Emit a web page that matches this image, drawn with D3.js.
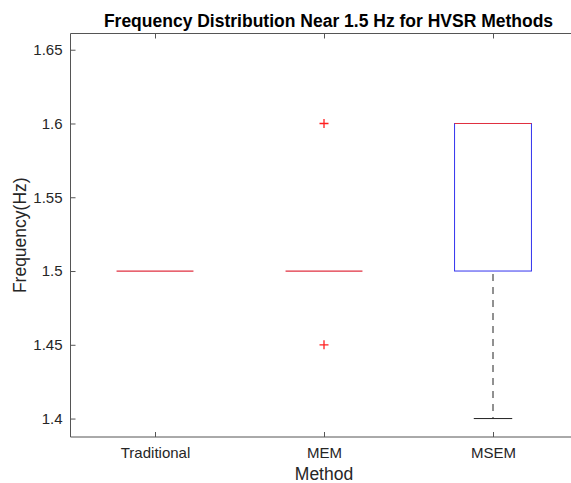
<!DOCTYPE html>
<html><head><meta charset="utf-8">
<script src="https://cdn.jsdelivr.net/npm/d3@7"></script>
<style>body{margin:0;background:#fff;overflow:hidden;} svg{display:block;overflow:hidden;} text{font-family:"Liberation Sans",Arial,sans-serif;}</style>
</head><body>
<svg id="c" width="571" height="483"></svg>
<script>
const methods = ["Traditional", "MEM", "MSEM"];
const q1 = [1.5, 1.5, 1.5];
const medians = [1.5, 1.5, 1.6];
const q3 = [1.5, 1.5, 1.6];
const whiskerLow = [1.5, 1.5, 1.4];
const whiskerHigh = [1.5, 1.5, 1.6];
const outliers = [[], [1.6, 1.45], []];
const yTicks = [1.4, 1.45, 1.5, 1.55, 1.6, 1.65];

const svg = d3.select("#c");
const L = 70.5, R = 577.5, T = 33.5, B = 437;
const x = d3.scaleLinear().domain([0.5, 3.5]).range([L, R]);
const y = d3.scaleLinear().domain([1.3875, 1.661]).range([B, T]);
const axisCol = "#262626";
const lineCol = "#555";
const boxW = 0.455, capW = 0.2275;

// frame
svg.append("line").attr("x1", L).attr("x2", R).attr("y1", B).attr("y2", B).attr("stroke", lineCol);
svg.append("line").attr("x1", L).attr("x2", R).attr("y1", T).attr("y2", T).attr("stroke", lineCol);
svg.append("line").attr("x1", L).attr("x2", L).attr("y1", T).attr("y2", B).attr("stroke", lineCol);

// y axis ticks
const yAxis = d3.axisLeft(y).tickValues(yTicks).tickSize(-5).tickPadding(8).tickFormat(d => String(+d.toFixed(2)));
const gy = svg.append("g").attr("transform", `translate(${L},0)`).call(yAxis);
gy.select(".domain").remove();
gy.selectAll("line").attr("stroke", lineCol);
gy.selectAll("text").attr("font-size", 15).attr("fill", axisCol).attr("font-family", "Liberation Sans, Arial, sans-serif");

// x axis ticks bottom
const xAxis = d3.axisBottom(x).tickValues([1, 2, 3]).tickSize(-5).tickPadding(10).tickFormat((d, i) => methods[i]);
const gx = svg.append("g").attr("transform", `translate(0,${B})`).call(xAxis);
gx.select(".domain").remove();
gx.selectAll("line").attr("stroke", lineCol);
gx.selectAll("text").attr("font-size", 15).attr("fill", axisCol).attr("font-family", "Liberation Sans, Arial, sans-serif");
// top ticks
const gt = svg.append("g").attr("transform", `translate(0,${T})`).call(d3.axisTop(x).tickValues([1, 2, 3]).tickSize(-5).tickFormat(""));
gt.select(".domain").remove();
gt.selectAll("line").attr("stroke", lineCol);

// boxes
methods.forEach((m, i) => {
  const c = i + 1;
  const g = svg.append("g");
  if (whiskerLow[i] < q1[i]) {
    g.append("line").attr("x1", x(c)).attr("x2", x(c)).attr("y1", y(q1[i]) + 3).attr("y2", y(whiskerLow[i]))
      .attr("stroke", "#222").attr("stroke-dasharray", "7,6");
    g.append("line").attr("x1", x(c - capW / 2)).attr("x2", x(c + capW / 2)).attr("y1", y(whiskerLow[i])).attr("y2", y(whiskerLow[i]))
      .attr("stroke", "#222");
  }
  if (whiskerHigh[i] > q3[i]) {
    g.append("line").attr("x1", x(c)).attr("x2", x(c)).attr("y1", y(q3[i])).attr("y2", y(whiskerHigh[i]))
      .attr("stroke", "#222").attr("stroke-dasharray", "7,6");
    g.append("line").attr("x1", x(c - capW / 2)).attr("x2", x(c + capW / 2)).attr("y1", y(whiskerHigh[i])).attr("y2", y(whiskerHigh[i]))
      .attr("stroke", "#222");
  }
  g.append("rect").attr("x", x(c - boxW / 2)).attr("width", x(c + boxW / 2) - x(c - boxW / 2))
    .attr("y", y(q3[i])).attr("height", y(q1[i]) - y(q3[i]))
    .attr("fill", "none").attr("stroke", "#3333ee").attr("stroke-width", 1);
  g.append("line").attr("x1", x(c - boxW / 2)).attr("x2", x(c + boxW / 2)).attr("y1", y(medians[i])).attr("y2", y(medians[i]))
    .attr("stroke", "#e03040").attr("stroke-width", 1.2);
  outliers[i].forEach(v => {
    const cx = x(c), cy = y(v), s = 4.5;
    g.append("path").attr("d", `M${cx - s},${cy}H${cx + s}M${cx},${cy - s}V${cy + s}`)
      .attr("stroke", "#ff2020").attr("stroke-width", 1.3).attr("fill", "none");
  });
});

// title and labels
svg.append("text").attr("x", 328.5).attr("y", 27).attr("text-anchor", "middle")
  .attr("font-size", 17.5).attr("font-weight", "bold").attr("fill", "#000")
  .text("Frequency Distribution Near 1.5 Hz for HVSR Methods");
svg.append("text").attr("x", (L + R) / 2).attr("y", 480).attr("text-anchor", "middle")
  .attr("font-size", 17.5).attr("fill", axisCol).text("Method");
svg.append("text").attr("transform", `translate(26,${(T + B) / 2}) rotate(-90)`).attr("text-anchor", "middle")
  .attr("font-size", 17.5).attr("fill", axisCol).text("Frequency(Hz)");
</script>
</body></html>
